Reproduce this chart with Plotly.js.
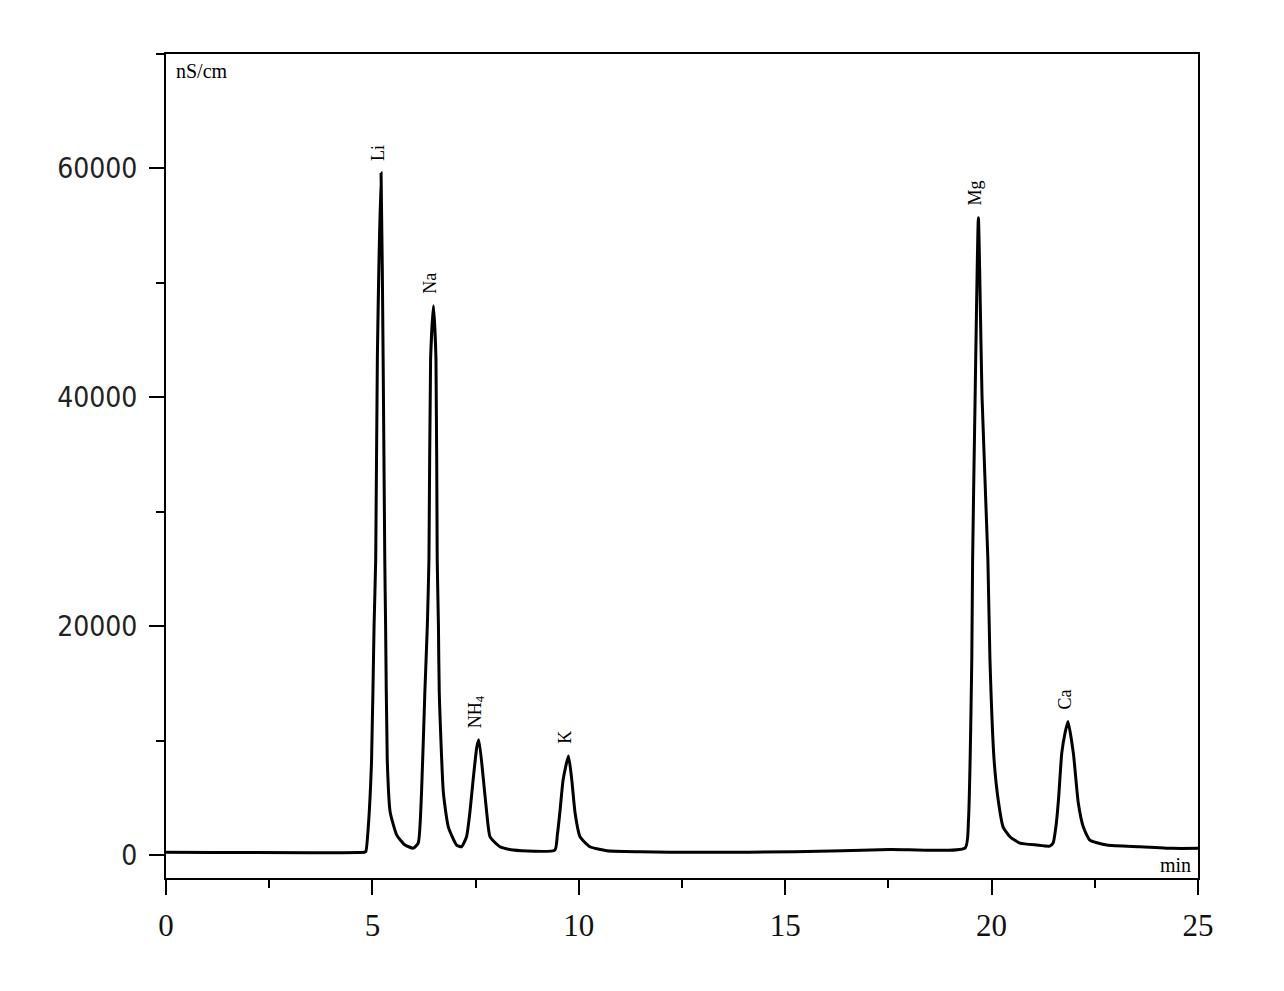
<!DOCTYPE html>
<html>
<head>
<meta charset="utf-8">
<script src="https://cdn.plot.ly/plotly-3.0.1.min.js"></script>
<style>
  html, body { margin: 0; padding: 0; background: #fff; }
  #chart { width: 1284px; height: 991px; }
</style>
</head>
<body>
<div id="chart"></div>
<script>
// Retention time (min)
const time = [
  0, 4.80, 4.84, 4.90, 4.98, 5.04, 5.08, 5.12, 5.21, 5.26, 5.30, 5.32, 5.36, 5.43, 5.59, 5.79, 5.99,
  6.11, 6.19, 6.27, 6.33, 6.37, 6.41, 6.48, 6.54, 6.57, 6.60, 6.62, 6.72, 6.84, 7.04, 7.16,
  7.28, 7.36, 7.44, 7.53, 7.58, 7.69, 7.77, 7.85, 8.09, 8.41, 9.42,
  9.48, 9.54, 9.62, 9.75, 9.83, 9.91, 10.03, 10.27, 10.68, 11.48, 12.94, 15.24, 17.54, 19.36,
  19.44, 19.48, 19.52, 19.54, 19.60, 19.68, 19.77, 19.91, 19.96, 20.06, 20.16, 20.28, 20.45, 20.69, 21.09, 21.41,
  21.49, 21.56, 21.62, 21.70, 21.78, 21.85, 21.98, 22.10, 22.22, 22.38, 22.79, 23.59, 24.39, 25.00
];
// Conductivity (nS/cm)
const signal = [
  250, 250, 300, 2450, 8320, 19970, 25840, 43360, 59600, 43360, 25840, 19970, 8320, 3770, 1750, 880, 610,
  1050, 5430, 14190, 19970, 25840, 43360, 48000, 43360, 25840, 19970, 14190, 5430, 2450, 880, 730,
  1600, 3680, 6570, 9460, 10070, 6570, 3680, 1600, 730, 440, 440,
  1750, 3680, 6570, 8670, 6570, 3680, 1600, 730, 380, 290, 240, 290, 500, 640,
  3070, 8320, 17080, 25840, 39850, 55700, 39850, 25840, 17080, 8320, 4820, 2450, 1580, 1050, 880, 790,
  1050, 2540, 4820, 8930, 10690, 11680, 8930, 4550, 2480, 1310, 880, 730, 590, 590
];

// Peak labels
const peakLabels = ['Li', 'Na', 'NH<sub>4</sub>', 'K', 'Mg', 'Ca'];
const peakTimes = [5.21, 6.48, 7.58, 9.75, 19.68, 21.85];
const peakHeights = [59600, 48000, 10070, 8670, 55700, 11680];

// Axis ticks
const xTicks = [0, 5, 10, 15, 20, 25];
const yTicks = [0, 20000, 40000, 60000];

const serif = '"Liberation Serif", "Times New Roman", serif';
const narrowSans = '"Liberation Sans Narrow", "DejaVu Sans Condensed", "Liberation Sans", Arial, sans-serif';

const trace = {
  x: time,
  y: signal,
  type: 'scatter',
  mode: 'lines',
  line: { color: '#000', width: 3, shape: 'spline', smoothing: 0.5 },
  hoverinfo: 'x+y'
};

const annotations = peakLabels.map((lab, i) => ({
  x: peakTimes[i],
  y: peakHeights[i],
  xref: 'x',
  yref: 'y',
  text: lab,
  showarrow: false,
  textangle: -90,
  xanchor: 'center',
  yanchor: 'bottom',
  xshift: -3,
  yshift: 10,
  font: { family: serif, size: 18, color: '#000' }
}));

annotations.push({
  xref: 'paper', yref: 'paper', x: 0.008, y: 0.995,
  xanchor: 'left', yanchor: 'top',
  text: 'nS/cm', showarrow: false,
  font: { family: serif, size: 20, color: '#000' }
});
annotations.push({
  xref: 'paper', yref: 'paper', x: 0.995, y: 0.0,
  xanchor: 'right', yanchor: 'bottom',
  text: 'min', showarrow: false,
  font: { family: serif, size: 20, color: '#000' }
});

const layout = {
  width: 1284,
  height: 991,
  margin: { l: 166, r: 86, t: 54, b: 113 },
  paper_bgcolor: '#fff',
  plot_bgcolor: '#fff',
  showlegend: false,
  xaxis: {
    range: [0, 25],
    tickvals: xTicks,
    ticktext: xTicks.map(String),
    ticks: 'outside',
    ticklen: 15,
    tickwidth: 2,
    tickcolor: '#000',
    ticklabelstandoff: 4,
    minor: { dtick: 2.5, tick0: 0, ticks: 'outside', ticklen: 8, tickwidth: 2, tickcolor: '#000', showgrid: false },
    showline: true,
    linecolor: '#000',
    linewidth: 2,
    mirror: true,
    showgrid: false,
    zeroline: false,
    tickfont: { family: serif, size: 31, color: '#111' }
  },
  yaxis: {
    range: [-2000, 70000],
    tickvals: yTicks,
    ticktext: yTicks.map(String),
    ticks: 'outside',
    ticklen: 15,
    tickwidth: 2,
    tickcolor: '#000',
    ticklabelstandoff: 6,
    minor: { dtick: 10000, tick0: 0, ticks: 'outside', ticklen: 8, tickwidth: 2, tickcolor: '#000', showgrid: false },
    showline: true,
    linecolor: '#000',
    linewidth: 2,
    mirror: true,
    showgrid: false,
    zeroline: false,
    tickfont: { family: narrowSans, size: 28, color: '#222' }
  },
  annotations: annotations
};

Plotly.newPlot('chart', [trace], layout, { displayModeBar: false, staticPlot: true });
</script>
</body>
</html>
